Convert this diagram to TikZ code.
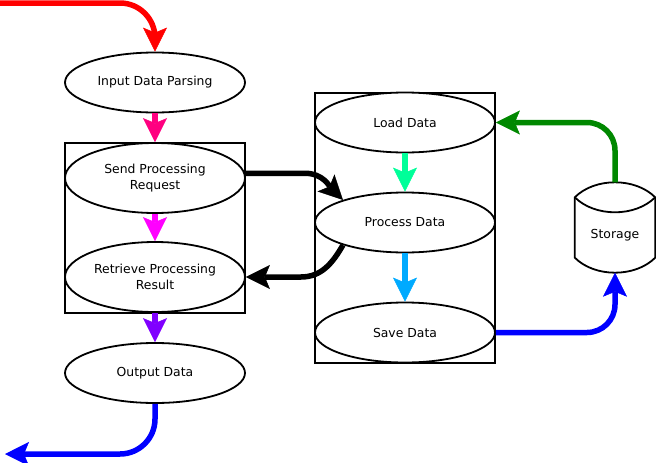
\documentclass[tikz,border=0pt]{standalone}
\usepackage{fontspec}
\setmainfont{DejaVu Sans}
\usetikzlibrary{arrows.meta,shapes.geometric}
\definecolor{flowred}{HTML}{FF0000}
\definecolor{flowpink}{HTML}{FF0080}
\definecolor{flowmagenta}{HTML}{FF00FF}
\definecolor{flowpurple}{HTML}{8000FF}
\definecolor{flowblue}{HTML}{0000FF}
\definecolor{flowspring}{HTML}{00FF99}
\definecolor{flowsky}{HTML}{00AAFF}
\definecolor{flowgreen}{HTML}{008800}
\tikzset{
  stage/.style={ellipse,draw,line width=1.8pt,fill=white,inner sep=1pt,minimum width=180pt,align=center,font=\fontsize{12.4}{16}\selectfont},
  frame/.style={draw,line width=1.8pt},
  flow/.style={line width=5.5pt,-{Stealth[length=24pt,width=24pt,inset=5pt,line width=0.5pt]}},
  store/.style={minimum width=80pt,minimum height=90pt,font=\fontsize{12.4}{16}\selectfont}
}
\begin{document}
\begin{tikzpicture}[x=1pt,y=-1pt]
			\useasboundingbox (0,0) rectangle (656,463);
			\draw[frame] (65,143) rectangle (245,313);
			\draw[frame] (315,93) rectangle (495,363);
			\node[stage,minimum height=60pt] (parse) at (155,82.5) {Input Data Parsing};
			\node[stage,minimum height=70pt] (send) at (155,178) {Send Processing\\Request};
			\node[stage,minimum height=70pt] (retr) at (155,277) {Retrieve Processing\\Result};
			\node[stage,minimum height=60pt] (outp) at (155,373) {Output Data};
			\node[stage,minimum height=60pt] (load) at (405,122.5) {Load Data};
			\node[stage,minimum height=60pt] (proc) at (405,222.5) {Process Data};
			\node[stage,minimum height=60pt] (save) at (405,332.5) {Save Data};
			\node[store] (stor) at (615,227.5) {};
			\draw[line width=1.8pt,fill=white] ([yshift=-15pt]stor.north west)
			  .. controls ([xshift=20pt,yshift=5pt]stor.north west) and ([xshift=-20pt,yshift=5pt]stor.north east) .. ([yshift=-15pt]stor.north east)
			  -- ([yshift=15pt]stor.south east)
			  .. controls ([xshift=-20pt,yshift=-5pt]stor.south east) and ([xshift=20pt,yshift=-5pt]stor.south west) .. ([yshift=15pt]stor.south west)
			  -- cycle;
			\draw[line width=1.8pt] ([yshift=-15pt]stor.north west)
			  .. controls ([xshift=20pt,yshift=-35pt]stor.north west) and ([xshift=-20pt,yshift=-35pt]stor.north east) .. ([yshift=-15pt]stor.north east);
			\node[store] at ([yshift=-8pt]stor.center) {Storage};
			\coordinate (entry) at (0,3);
			\coordinate (exit) at (5,454);
			\draw[flow,flowred,rounded corners=35pt] (entry) -| (parse.north);
			\draw[flow,flowpink] (parse.south) -- (send.north);
			\draw[flow,flowmagenta] (send.south) -- (retr.north);
			\draw[flow,flowpurple] (retr.south) -- (outp.north);
			\draw[flow,flowblue,rounded corners=35pt] (outp.south) |- (exit);
			\draw[flow,black] (send.3) -- ++(60,0) to[out=0,in=135] (proc.160);
			\draw[flow,black] (proc.200) to[out=240,in=0] ([xshift=55pt]retr.east) -- (retr.east);
			\draw[flow,flowspring] (load.south) -- (proc.north);
			\draw[flow,flowsky] (proc.south) -- (save.north);
			\draw[flow,flowblue,rounded corners=28pt] (save.east) -| (stor.south);
			\draw[flow,flowgreen,rounded corners=28pt] (stor.north) |- (load.east);
		\end{tikzpicture}
\end{document}
